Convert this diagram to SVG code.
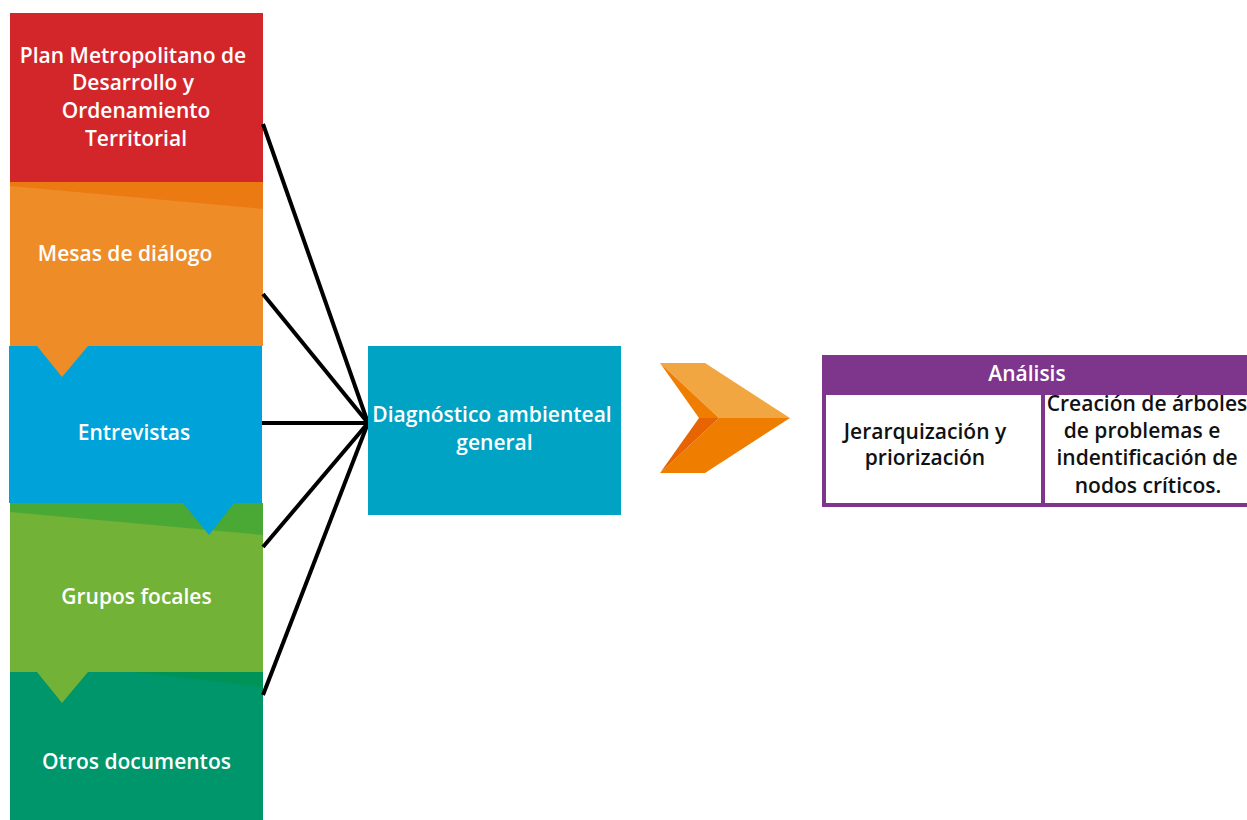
<svg xmlns="http://www.w3.org/2000/svg" width="1247" height="820" viewBox="0 0 1247 820">
  <style>
    .lbl { font-family: "Open Sans", "Liberation Sans", sans-serif; font-weight: 600; font-size: 21px; text-anchor: middle; }
    .w { fill: #ffffff; }
    .k { fill: #111111; }
    .link { stroke: #000000; stroke-width: 4; fill: none; }
  </style>
  <rect width="1247" height="820" fill="#ffffff"/>

  <!-- Stacked source blocks, painted bottom-up so each pointer overlaps the block below -->
  <g id="otros-documentos">
    <rect x="10" y="672" width="253" height="148" fill="#00966B"/>
    <polygon points="133,672 263,672 263,687" fill="#009358"/>
    <text class="lbl w" x="136.5" y="769">Otros documentos</text>
  </g>

  <g id="grupos-focales">
    <rect x="10" y="503" width="253" height="169" fill="#72B236"/>
    <polygon points="10,503 263,503 263,535 10,512" fill="#4AA935"/>
    <polygon points="37,672 88,672 62,703" fill="#72B236"/>
    <text class="lbl w" x="136.5" y="604">Grupos focales</text>
  </g>

  <g id="entrevistas">
    <rect x="9" y="346" width="253" height="157" fill="#00A2DA"/>
    <polygon points="183,503 234,503 209,535" fill="#00A2DA"/>
    <text class="lbl w" x="134" y="440">Entrevistas</text>
  </g>

  <g id="mesas-de-dialogo">
    <rect x="10" y="182" width="253" height="164" fill="#EE8C28"/>
    <polygon points="10,182 263,182 263,209 10,186" fill="#EB7A12"/>
    <polygon points="37,346 88,346 62,377" fill="#EE8C28"/>
    <text class="lbl w" x="125" y="261">Mesas de diálogo</text>
  </g>

  <g id="plan-metropolitano">
    <rect x="10" y="13" width="253" height="169" fill="#D3262B"/>
    <text class="lbl w" x="133" y="63">Plan Metropolitano de</text>
    <text class="lbl w" x="133" y="90">Desarrollo y</text>
    <text class="lbl w" x="136" y="118">Ordenamiento</text>
    <text class="lbl w" x="136" y="146">Territorial</text>
  </g>

  <!-- Connectors fanning into the diagnosis block -->
  <g id="connectors">
    <line class="link" x1="263" y1="124" x2="368" y2="423"/>
    <line class="link" x1="263" y1="294" x2="368" y2="423"/>
    <line class="link" x1="262" y1="423" x2="368" y2="423"/>
    <line class="link" x1="263" y1="547" x2="368" y2="423"/>
    <line class="link" x1="263" y1="695" x2="368" y2="423"/>
  </g>

  <g id="diagnostico">
    <rect x="368" y="346" width="253" height="169" fill="#00A3C4"/>
    <text class="lbl w" x="492" y="422">Diagnóstico ambienteal</text>
    <text class="lbl w" x="494.5" y="450">general</text>
  </g>

  <!-- Chevron arrow -->
  <g id="chevron">
    <polygon points="660,363 705,363 790,418 719,418" fill="#F2A641"/>
    <polygon points="660,363 719,418 699,418" fill="#EF7D00"/>
    <polygon points="660,473 705,473 790,418 719,418" fill="#EE7D00"/>
    <polygon points="660,473 699,418 719,418" fill="#E86400"/>
  </g>

  <g id="analisis">
    <rect x="822" y="355" width="425" height="38" fill="#7E358C"/>
    <text class="lbl w" x="1027" y="381">Análisis</text>
    <rect x="824" y="393" width="425" height="112" fill="#ffffff" stroke="#7E358C" stroke-width="4"/>
    <line x1="1043" y1="393" x2="1043" y2="507" stroke="#7E358C" stroke-width="4"/>
    <text class="lbl k" x="925" y="439">Jerarquización y</text>
    <text class="lbl k" x="925" y="465">priorización</text>
    <text class="lbl k" x="1147" y="411">Creación de árboles</text>
    <text class="lbl k" x="1142" y="438">de problemas e</text>
    <text class="lbl k" x="1147" y="465">indentificación de</text>
    <text class="lbl k" x="1148" y="493">nodos críticos.</text>
  </g>
</svg>
